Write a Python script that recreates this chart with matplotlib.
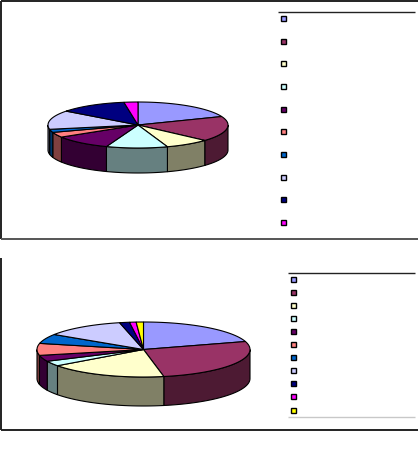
import numpy as np
import matplotlib
matplotlib.use("Agg")
import matplotlib.pyplot as plt
from matplotlib.patches import Polygon, Rectangle

W, H = 418, 468

colors_top = ["#9999FF", "#993366", "#FFFFCC", "#CCFFFF", "#660066", "#FF8080",
              "#0066CC", "#CCCCFF", "#000080", "#FF00FF"]
values_top = [19.0, 17.7, 8.0, 11.0, 10.5, 3.6, 2.2, 13.3, 12.2, 2.5]

colors_bottom = colors_top + ["#FFFF00"]
values_bottom = [20.3, 26.6, 18.0, 3.0, 3.6, 7.0, 5.6, 12.2, 1.5, 1.0, 1.1]

fig = plt.figure(figsize=(W / 100, H / 100), dpi=100)
ax = fig.add_axes([0, 0, 1, 1])
ax.set_xlim(0, W)
ax.set_ylim(H, 0)
ax.axis("off")


def shade(c):
    return tuple(v * 0.5 for v in matplotlib.colors.to_rgb(c))


def pie3d(values, colors, cx, cy, rx, ry, depth):
    fr = np.cumsum([0] + list(values)) / sum(values) * 2 * np.pi
    pt = lambda a: (cx + rx * np.sin(a), cy - ry * np.cos(a))
    for i, c in enumerate(colors):
        a0, a1 = max(fr[i], np.pi / 2), min(fr[i + 1], 3 * np.pi / 2)
        if a1 > a0:
            a = np.linspace(a0, a1, 60)
            x, y = pt(a)
            xy = np.r_[np.c_[x, y], np.c_[x[::-1], y[::-1] + depth]]
            ax.add_patch(Polygon(xy, closed=True, fc=shade(c), ec="black", lw=0.8))
    for i, c in enumerate(colors):
        a = np.linspace(fr[i], fr[i + 1], 60)
        x, y = pt(a)
        xy = np.r_[[[cx, cy]], np.c_[x, y]]
        ax.add_patch(Polygon(xy, closed=True, fc=c, ec="black", lw=0.8, zorder=3))


pie3d(values_top, colors_top, 138, 125, 90, 23, 25)
pie3d(values_bottom, colors_bottom, 143.5, 349.5, 106.5, 27.5, 29)


def frame(x0, y0, x1, y1, top=True, bottom_color="#555555"):
    ax.plot([x0, x0], [y0, y1], color="#222222", lw=1.4, solid_capstyle="butt")
    if top:
        ax.plot([x0, x1], [y0, y0], color="#222222", lw=1.4, solid_capstyle="butt")
    ax.plot([x0, x1], [y1, y1], color=bottom_color, lw=1.4, solid_capstyle="butt")


frame(0.5, 0.5, W, 238.5)
frame(0.5, 258, W, 429.5, top=False, bottom_color="#222222")


def legend(colors, x, ys, x0, x1, top, bottom=None):
    ax.plot([x0, x1], [top, top], color="#222222", lw=1.0, solid_capstyle="butt")
    if bottom is not None:
        ax.plot([x0, x1], [bottom, bottom], color="#c8c8c8", lw=1.0, solid_capstyle="butt")
    for c, y in zip(colors, ys):
        ax.add_patch(Rectangle((x - 2.5, y - 2.5), 5, 5, fc=c, ec="black", lw=1.0))


legend(colors_top, 283.5, np.linspace(18.5, 222.5, 10), 278, 415, 11.5)
legend(colors_bottom, 293.5, np.linspace(279.5, 410, 11), 288, 415, 272.5, 416.5)

fig.savefig("out.png", dpi=100, facecolor="white")
